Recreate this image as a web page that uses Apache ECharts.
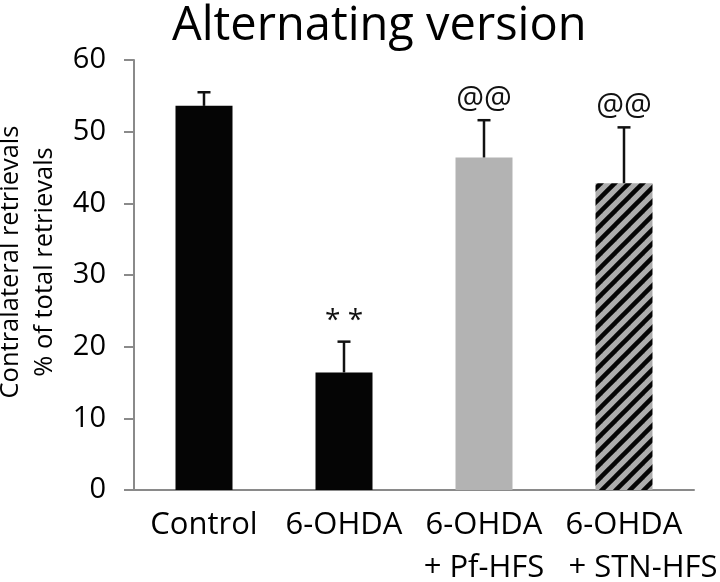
<!DOCTYPE html>
<html>
<head>
<meta charset="utf-8">
<style>html,body{margin:0;padding:0;background:#fff}#c{width:720px;height:582px}</style>
<script src="https://cdn.jsdelivr.net/npm/echarts@6/dist/echarts.min.js"></script>
</head>
<body>
<div id="c"></div>
<script>
const categories = ['Control', '6-OHDA', '6-OHDA\n+ Pf-HFS', '6-OHDA\n+ STN-HFS'];
const means = [53.6, 16.4, 46.4, 42.8];
const errors = [1.9, 4.3, 5.2, 7.8];
const marks = ['', '* *', '@@', '@@'];
const yTicks = { min: 0, max: 60, interval: 10 };

const FONT = '"Open Sans", sans-serif';

// hatch pattern tile (diagonal "/" stripes)
const s = 14;
const tile = document.createElement('canvas');
tile.width = s; tile.height = s;
const h = tile.getContext('2d');
h.fillStyle = '#adadad';
h.fillRect(0, 0, s, s);
h.strokeStyle = '#050505';
h.lineWidth = 4.5;
for (let k = 0; k <= 2; k++) {
  h.beginPath();
  h.moveTo(k * s - s - 2, s + 2);
  h.lineTo(k * s + 2, -2);
  h.stroke();
}

const fills = ['#050505', '#050505', '#b3b3b3', { image: tile, repeat: 'repeat' }];

const chart = echarts.init(document.getElementById('c'), null, { renderer: 'canvas' });
chart.setOption({
  animation: false,
  title: {
    text: 'Alternating version',
    left: 172, top: 3, padding: 0,
    textStyle: { fontFamily: FONT, fontSize: 47, fontWeight: 'normal', color: '#000' }
  },
  grid: { left: 134, right: 26, top: 60, bottom: 92, containLabel: false, outerBoundsMode: 'none' },
  xAxis: {
    type: 'category',
    data: categories,
    axisLine: { lineStyle: { color: '#8a8a8a', width: 2 } },
    axisTick: { length: 7, lineStyle: { color: '#8a8a8a', width: 2 } },
    axisLabel: {
      fontFamily: FONT, fontSize: 31, color: '#000', lineHeight: 43, margin: 14, interval: 0,
      formatter: function (v) {
        const parts = v.split('\n');
        if (parts.length === 1) return '{n|' + v + '}';
        const second = parts[1].length > parts[0].length + 2 ? 's' : 'n';
        return '{n|' + parts[0] + '}\n{' + second + '|' + parts[1] + '}';
      },
      rich: {
        n: { fontFamily: FONT, fontSize: 31, color: '#000', lineHeight: 43 },
        s: { fontFamily: FONT, fontSize: 31, color: '#000', lineHeight: 43, padding: [0, 0, 0, 38] }
      }
    }
  },
  yAxis: {
    type: 'value',
    min: yTicks.min, max: yTicks.max, interval: yTicks.interval,
    name: 'Contralateral retrievals\n% of total retrievals',
    nameLocation: 'middle',
    nameGap: 69,
    nameTextStyle: { fontFamily: FONT, fontSize: 25.5, color: '#000', lineHeight: 34, padding: [0, 0, 0, 26] },
    axisLine: { show: true, lineStyle: { color: '#8a8a8a', width: 2 } },
    axisTick: { show: true, length: 10, lineStyle: { color: '#8a8a8a', width: 2 } },
    axisLabel: { fontFamily: FONT, fontSize: 29, color: '#000', margin: 28 },
    splitLine: { show: false }
  },
  series: [
    {
      type: 'bar',
      barWidth: 57,
      data: means.map((v, i) => ({ value: v, itemStyle: { color: fills[i] } }))
    },
    {
      type: 'custom',
      data: means.map((v, i) => [i, v, errors[i]]),
      z: 5,
      renderItem: function (params, api) {
        const i = api.value(0);
        const p0 = api.coord([i, api.value(1)]);
        const p1 = api.coord([i, api.value(1) + api.value(2)]);
        const children = [
          { type: 'line', shape: { x1: p0[0], y1: p0[1], x2: p1[0], y2: p1[1] }, style: { stroke: '#111', lineWidth: 2.5 } },
          { type: 'line', shape: { x1: p1[0] - 6.5, y1: p1[1], x2: p1[0] + 6.5, y2: p1[1] }, style: { stroke: '#111', lineWidth: 2.5 } }
        ];
        const m = marks[params.dataIndex];
        if (m) {
          const fs = m.indexOf('@') >= 0 ? 31 : 28;
          children.push({ type: 'text', style: { text: m, x: p1[0], y: p1[1] - 21, align: 'center', verticalAlign: 'middle', font: fs + 'px ' + FONT, fill: '#111' } });
        }
        return { type: 'group', children: children };
      }
    }
  ]
});
</script>
</body>
</html>
